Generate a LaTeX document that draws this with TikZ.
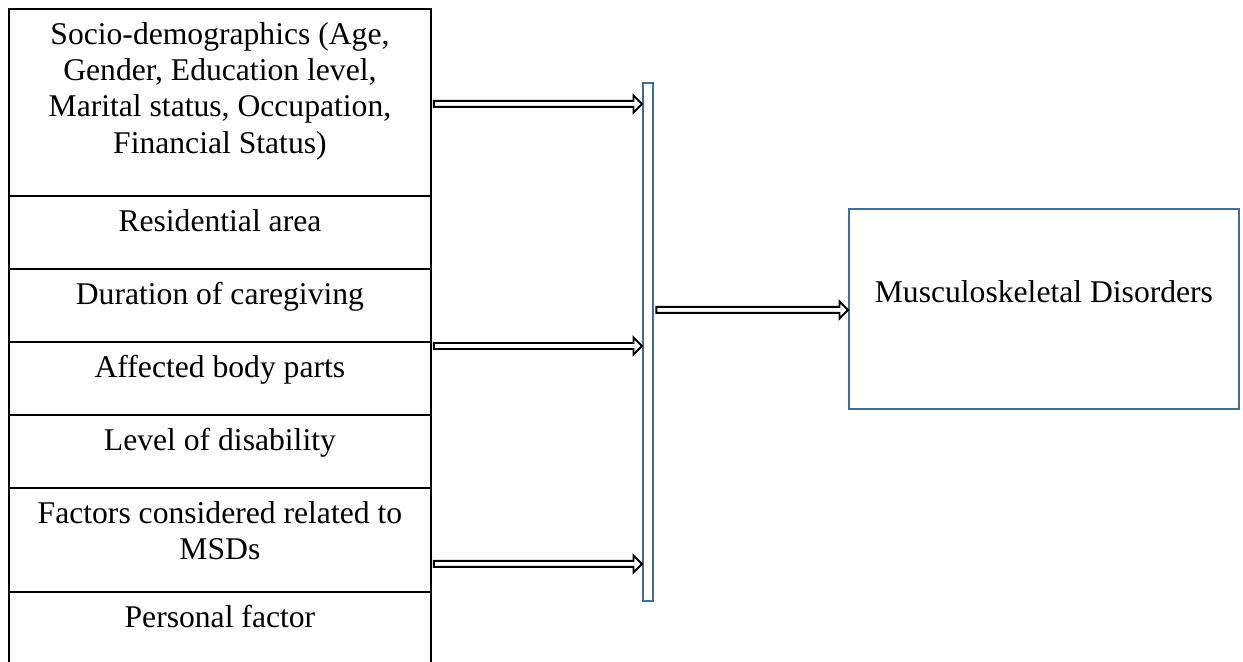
\documentclass[tikz,border=0pt]{standalone}
\usepackage{fontspec}
\setmainfont{Liberation Serif}
\usetikzlibrary{calc}
\definecolor{barblue}{RGB}{65,110,145}

% block arrow between two points: shaft, then an open head
\newcommand{\blockarrow}[2]{%
  \draw[arrline] let \p1=(#1), \p2=(#2) in
    (\x1,\y1+0.06cm) -- (\x2-0.17cm,\y1+0.06cm) -- (\x2-0.17cm,\y1+0.17cm)
    -- (\x2,\y1) -- (\x2-0.17cm,\y1-0.17cm) -- (\x2-0.17cm,\y1-0.06cm)
    -- (\x1,\y1-0.06cm) -- cycle;}

\begin{document}
\begin{tikzpicture}[x=0.02cm,y=-0.02cm,thick]
  \tikzset{
    cell/.style={draw, line width=1.1pt, minimum width=8.44cm, anchor=north west, inner sep=0pt},
    txt/.style={anchor=north, yshift=-0.27cm, align=center, inner sep=0pt, font=\fontsize{18}{20.7}\selectfont},
    frame/.style={draw=barblue, line width=1.1pt, anchor=north west, inner sep=0pt},
    arrline/.style={draw=black, fill=white, line width=1.1pt, line join=miter}
  }
  \useasboundingbox (0,0) rectangle (1243,662);

  % left column of factors
  \node[cell, minimum height=3.74cm] (c1) at (8,8) {};
  \node[cell, minimum height=1.46cm] (c2) at (8,195) {};
  \node[cell, minimum height=1.46cm] (c3) at (8,268) {};
  \node[cell, minimum height=1.46cm] (c4) at (8,341) {};
  \node[cell, minimum height=1.46cm] (c5) at (8,414) {};
  \node[cell, minimum height=2.08cm] (c6) at (8,487) {};
  \node[cell, minimum height=1.78cm] (c7) at (8,591) {};

  \node[txt] (t1) at (c1.north) {Socio-demographics (Age,\\Gender, Education level,\\Marital status, Occupation,\\Financial Status)};
  \node[txt] (t2) at (c2.north) {Residential area};
  \node[txt] (t3) at (c3.north) {Duration of caregiving};
  \node[txt] (t4) at (c4.north) {Affected body parts};
  \node[txt] (t5) at (c5.north) {Level of disability};
  \node[txt] (t6) at (c6.north) {Factors considered related to\\MSDs};
  \node[txt] (t7) at (c7.north) {Personal factor};

  % collecting bar and outcome
  \node[frame, minimum width=0.2cm, minimum height=10.36cm] (bar) at (642,82) {};
  \node[frame, minimum width=7.8cm, minimum height=4cm] (msd) at (848,208) {};
  \node[anchor=base, inner sep=0pt, font=\fontsize{18}{20.7}\selectfont] (msdtext)
    at ([yshift=0.12cm]msd.center) {Musculoskeletal Disorders};

  \coordinate (a1) at ([yshift=-0.03cm,xshift=0.04cm]c1.east);
  \coordinate (a2) at ([yshift=-0.1cm,xshift=0.04cm]c4.north east);
  \coordinate (a3) at ([yshift=0.58cm,xshift=0.04cm]c6.south east);
  \coordinate (a4) at ([xshift=0.05cm,yshift=-0.02cm]bar.east |- msd.west);

  \blockarrow{a1}{a1 -| bar.west}
  \blockarrow{a2}{a2 -| bar.west}
  \blockarrow{a3}{a3 -| bar.west}
  \blockarrow{a4}{msd.west}
\end{tikzpicture}
\end{document}
